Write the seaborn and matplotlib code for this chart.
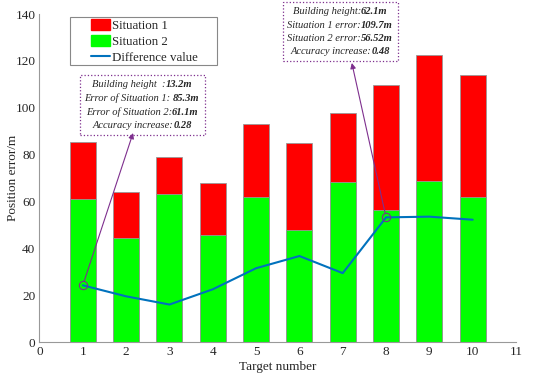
import matplotlib
matplotlib.use('Agg')
import matplotlib.pyplot as plt
from matplotlib.patches import Patch, Rectangle
from matplotlib.lines import Line2D
from matplotlib.offsetbox import TextArea, HPacker, VPacker, AnnotationBbox
import seaborn as sns

# values
targets = [1, 2, 3, 4, 5, 6, 7, 8, 9, 10]
situation_1 = [85.3, 64.0, 79.0, 68.0, 93.2, 84.8, 97.6, 109.7, 122.3, 114.0]
situation_2 = [61.1, 44.5, 63.0, 45.5, 61.7, 48.0, 68.5, 56.52, 68.8, 62.0]
difference = [24.2, 19.5, 16.0, 22.5, 31.5, 36.7, 29.4, 53.2, 53.5, 52.2]

# annotation texts: (italic part, bold part)
note_1 = [('Building height  :', '13.2m'),
          ('Error of Situation 1: ', '85.3m'),
          ('Error of Situation 2:', '61.1m'),
          ('Accuracy increase:', '0.28')]
note_2 = [('Building height:', '62.1m'),
          ('Situation 1 error:', '109.7m'),
          ('Situation 2 error:', '56.52m'),
          ('Accuracy increase:', '0.48')]

sns.set_style('white')
plt.rcParams['font.family'] = ['Liberation Serif', 'DejaVu Serif']

purple = '#7E2F8E'
blue = '#0072BD'

fig = plt.figure(figsize=(5.5, 3.79), dpi=100)
ax = fig.add_axes([0.0718, 0.0976, 0.8664, 0.8654])

# Situation 1 bars behind, Situation 2 bars in front
sns.barplot(x=targets, y=situation_1, native_scale=True, width=0.6, color='#FF0000',
            saturation=1, edgecolor='#999999', linewidth=0.6, ax=ax)
sns.barplot(x=targets, y=situation_2, native_scale=True, width=0.6, color='#00FF00',
            saturation=1, edgecolor='#999999', linewidth=0.6, ax=ax)
sns.lineplot(x=targets, y=difference, color=blue, linewidth=1.5, ax=ax)

# highlighted points
ax.plot([targets[0], targets[7]], [difference[0], difference[7]], 'o', mfc='none',
        mec=purple, ms=6, mew=0.8, zorder=5)

ax.set_xlim(0, 11)
ax.set_ylim(0, 140)
ax.set_xticks(range(0, 12))
ax.set_yticks(range(0, 141, 20))
ax.set_xlabel('Target number', fontsize=9.5, labelpad=2)
ax.set_ylabel('Position error/m', fontsize=9.5, labelpad=-3)
ax.tick_params(direction='in', length=3, labelsize=9.5, color='#888888', pad=3)
for s in ['top', 'right']:
    ax.spines[s].set_visible(False)
for s in ['left', 'bottom']:
    ax.spines[s].set_color('#999999')
    ax.spines[s].set_linewidth(0.8)

# legend (frame drawn separately to get the wide side margins)
handles = [Patch(facecolor='#FF0000', edgecolor='#FF0000'),
           Patch(facecolor='#00FF00', edgecolor='#00FF00'),
           Line2D([0], [0], color=blue, lw=1.5)]
ax.legend(handles, ['Situation 1', 'Situation 2', 'Difference value'],
          loc='upper left', bbox_to_anchor=(0.108, 0.985), borderaxespad=0,
          fontsize=9.3, frameon=False, handlelength=1.45, handletextpad=0.15,
          borderpad=0, labelspacing=0.25, handleheight=0.95)
ax.add_patch(Rectangle((0.064, 0.8445), 0.3085, 0.1463, transform=ax.transAxes,
                       fc='white', ec='#888888', lw=0.8, zorder=4, clip_on=False))


def note_box(lines, xy):
    rows = []
    for it, bf in lines:
        rows.append(HPacker(children=[
            TextArea(it, textprops=dict(fontsize=7.6, style='italic')),
            TextArea(bf, textprops=dict(fontsize=7.6, style='italic', weight='bold'))],
            pad=0, sep=0))
    pack = VPacker(children=rows, align='center', pad=0, sep=3)
    ab = AnnotationBbox(pack, xy, xycoords='data', frameon=True, pad=0.35,
                        box_alignment=(0.5, 0.5), annotation_clip=False, zorder=6)
    ab.patch.set_edgecolor(purple)
    ab.patch.set_linestyle(':')
    ab.patch.set_linewidth(0.9)
    ax.add_artist(ab)


note_box(note_1, (2.37, 101.2))
note_box(note_2, (6.94, 132.5))

arrow = dict(arrowstyle='-|>', color=purple, lw=0.8, mutation_scale=8, shrinkA=3, shrinkB=0)
ax.annotate('', xy=(2.16, 89.2), xytext=(targets[0], difference[0]), arrowprops=arrow, zorder=6)
ax.annotate('', xy=(7.21, 119.1), xytext=(targets[7], difference[7]), arrowprops=arrow, zorder=6,
            annotation_clip=False)

fig.savefig('out.png', dpi=100)
